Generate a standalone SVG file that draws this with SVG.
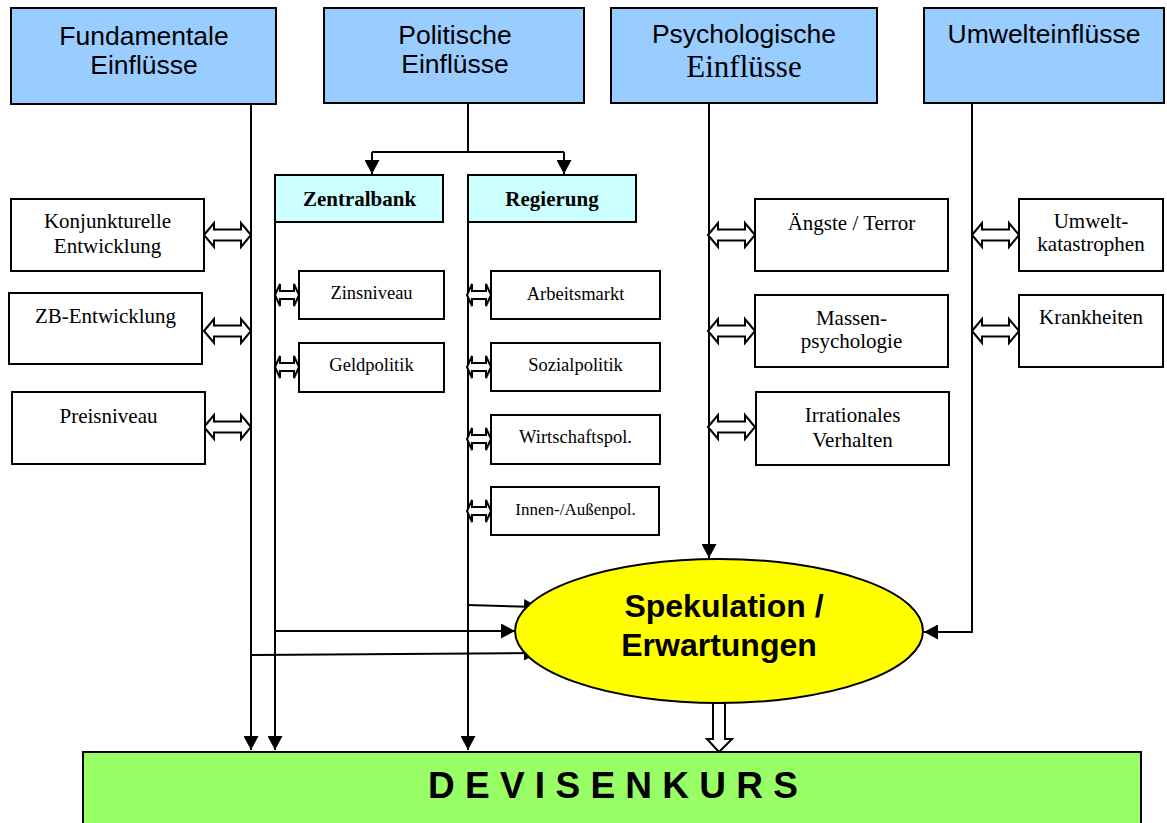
<svg xmlns="http://www.w3.org/2000/svg" xmlns:xlink="http://www.w3.org/1999/xlink" width="1167" height="823" viewBox="0 0 1167 823">
<style>
.hdr{fill:#99CCFF;stroke:#000;stroke-width:2}
.sub{fill:#CCFFFF;stroke:#000;stroke-width:2}
.box{fill:#fff;stroke:#000;stroke-width:2}
.sans{font-family:"Liberation Sans",Arial,sans-serif;text-anchor:middle;fill:#000}
.serif{font-family:"Liberation Serif","Times New Roman",serif;text-anchor:middle;fill:#000}
.h{font-size:26.5px}
.t{font-size:21px}
.s{font-size:18.5px}
.b{font-size:21px;font-weight:bold}
.con{fill:none;stroke:#000;stroke-width:2}
.dbl{fill:#fff;stroke:#000;stroke-width:2;stroke-linejoin:miter}
</style>
<defs>
<marker id="ah" markerUnits="userSpaceOnUse" markerWidth="14" markerHeight="15" refX="14" refY="7.5" orient="auto" viewBox="0 0 14 15">
<path d="M0,0 L14,7.5 L0,15 z" fill="#000"/>
</marker>
<polygon id="dblBig" class="dbl" points="0,0 10,-12 10,-5.5 37,-5.5 37,-12 47,0 37,12 37,5.5 10,5.5 10,12"/>
<polygon id="dblSmall" class="dbl" points="0,0 5,-11 5,-4 19,-4 19,-11 24,0 19,11 19,4 5,4 5,11"/>
</defs>
<rect width="1167" height="823" fill="#fff"/>

<g id="connectors">
<path class="con" d="M251,104 V750" marker-end="url(#ah)"/>
<path class="con" d="M275,222 V750" marker-end="url(#ah)"/>
<path class="con" d="M468,222 V750" marker-end="url(#ah)"/>
<path class="con" d="M468,103 V152 M372,152 H564"/>
<path class="con" d="M372,152 V174" marker-end="url(#ah)"/>
<path class="con" d="M564,152 V174" marker-end="url(#ah)"/>
<path class="con" d="M709,103 V558" marker-end="url(#ah)"/>
<path class="con" d="M972,103 V632 H924" marker-end="url(#ah)"/>
<path class="con" d="M468,605 L538,607" marker-end="url(#ah)"/>
<path class="con" d="M275,631 H515" marker-end="url(#ah)"/>
<path class="con" d="M251,655 L538,653" marker-end="url(#ah)"/>
<use xlink:href="#dblBig" transform="translate(204,235)"/>
<use xlink:href="#dblBig" transform="translate(204,331)"/>
<use xlink:href="#dblBig" transform="translate(204,427)"/>
<use xlink:href="#dblSmall" transform="translate(275,295)"/>
<use xlink:href="#dblSmall" transform="translate(275,367)"/>
<use xlink:href="#dblSmall" transform="translate(467,295)"/>
<use xlink:href="#dblSmall" transform="translate(467,367)"/>
<use xlink:href="#dblSmall" transform="translate(467,439)"/>
<use xlink:href="#dblSmall" transform="translate(467,511)"/>
<use xlink:href="#dblBig" transform="translate(708,235)"/>
<use xlink:href="#dblBig" transform="translate(708,331)"/>
<use xlink:href="#dblBig" transform="translate(708,427)"/>
<use xlink:href="#dblBig" transform="translate(972,235)"/>
<use xlink:href="#dblBig" transform="translate(972,331)"/>
</g>

<g id="fundamentale">
<rect class="hdr" x="11" y="8" width="265" height="96"/>
<text class="sans h" x="144" y="45">Fundamentale</text>
<text class="sans h" x="144" y="74">Einflüsse</text>
</g>
<g id="politische">
<rect class="hdr" x="324" y="8" width="260" height="95"/>
<text class="sans h" x="455" y="44">Politische</text>
<text class="sans h" x="455" y="73">Einflüsse</text>
</g>
<g id="psychologische">
<rect class="hdr" x="611" y="8" width="266" height="95"/>
<text class="sans h" x="744" y="43">Psychologische</text>
<text class="serif" style="font-size:31px" x="744" y="77">Einflüsse</text>
</g>
<g id="umwelt">
<rect class="hdr" x="924" y="8" width="240" height="95"/>
<text class="sans h" x="1044" y="43">Umwelteinflüsse</text>
</g>

<g id="zentralbank">
<rect class="sub" x="275" y="175" width="168" height="47"/>
<text class="serif b" x="359.5" y="206">Zentralbank</text>
</g>
<g id="regierung">
<rect class="sub" x="468" y="175" width="168" height="47"/>
<text class="serif b" x="552" y="206">Regierung</text>
</g>

<g id="konjunkturelle">
<rect class="box" x="11" y="199" width="193" height="72"/>
<text class="serif t" x="107.5" y="228">Konjunkturelle</text>
<text class="serif t" x="107.5" y="253">Entwicklung</text>
</g>
<g id="zb-entwicklung">
<rect class="box" x="9" y="293" width="193" height="71"/>
<text class="serif t" x="105.5" y="323">ZB-Entwicklung</text>
</g>
<g id="preisniveau">
<rect class="box" x="12" y="392" width="193" height="72"/>
<text class="serif t" x="108.5" y="423">Preisniveau</text>
</g>

<g id="zinsniveau">
<rect class="box" x="299" y="271" width="145" height="48"/>
<text class="serif s" x="371.5" y="299">Zinsniveau</text>
</g>
<g id="geldpolitik">
<rect class="box" x="299" y="343" width="145" height="49"/>
<text class="serif s" x="371.5" y="371">Geldpolitik</text>
</g>

<g id="arbeitsmarkt">
<rect class="box" x="491" y="271" width="169" height="48"/>
<text class="serif s" x="575.5" y="300">Arbeitsmarkt</text>
</g>
<g id="sozialpolitik">
<rect class="box" x="491" y="343" width="169" height="48"/>
<text class="serif s" x="575.5" y="371">Sozialpolitik</text>
</g>
<g id="wirtschaftspol">
<rect class="box" x="491" y="415" width="169" height="49"/>
<text class="serif s" x="575.5" y="443">Wirtschaftspol.</text>
</g>
<g id="innenpol">
<rect class="box" x="491" y="487" width="168" height="48"/>
<text class="serif" style="font-size:17px" x="575.5" y="515">Innen-/Außenpol.</text>
</g>

<g id="aengste">
<rect class="box" x="755" y="199" width="193" height="72"/>
<text class="serif t" x="851.5" y="230">Ängste / Terror</text>
</g>
<g id="massenpsychologie">
<rect class="box" x="755" y="295" width="193" height="72"/>
<text class="serif t" x="851.5" y="325">Massen-</text>
<text class="serif t" x="851.5" y="348">psychologie</text>
</g>
<g id="irrationales">
<rect class="box" x="756" y="392" width="193" height="73"/>
<text class="serif t" x="852.5" y="422">Irrationales</text>
<text class="serif t" x="852.5" y="447">Verhalten</text>
</g>

<g id="umweltkatastrophen">
<rect class="box" x="1019" y="199" width="144" height="72"/>
<text class="serif t" x="1091" y="228">Umwelt-</text>
<text class="serif t" x="1091" y="251">katastrophen</text>
</g>
<g id="krankheiten">
<rect class="box" x="1019" y="295" width="144" height="72"/>
<text class="serif t" x="1091" y="324">Krankheiten</text>
</g>

<g id="spekulation">
<ellipse cx="719" cy="631" rx="204" ry="72" fill="#FFFF00" stroke="#000" stroke-width="2"/>
<text class="sans" style="font-size:32px;font-weight:bold" x="724" y="617">Spekulation /</text>
<text class="sans" style="font-size:32px;font-weight:bold" x="719" y="656">Erwartungen</text>
</g>

<g id="hollow-arrow">
<polygon class="dbl" points="713,703 725,703 725,739 732,739 719,752 707,739 713,739"/>
</g>

<g id="devisenkurs">
<rect x="83" y="752" width="1058" height="80" fill="#99FF66" stroke="#000" stroke-width="2"/>
<text class="sans" style="font-size:37px;font-weight:bold" x="613" y="798">D E V I S E N K U R S</text>
</g>
</svg>
